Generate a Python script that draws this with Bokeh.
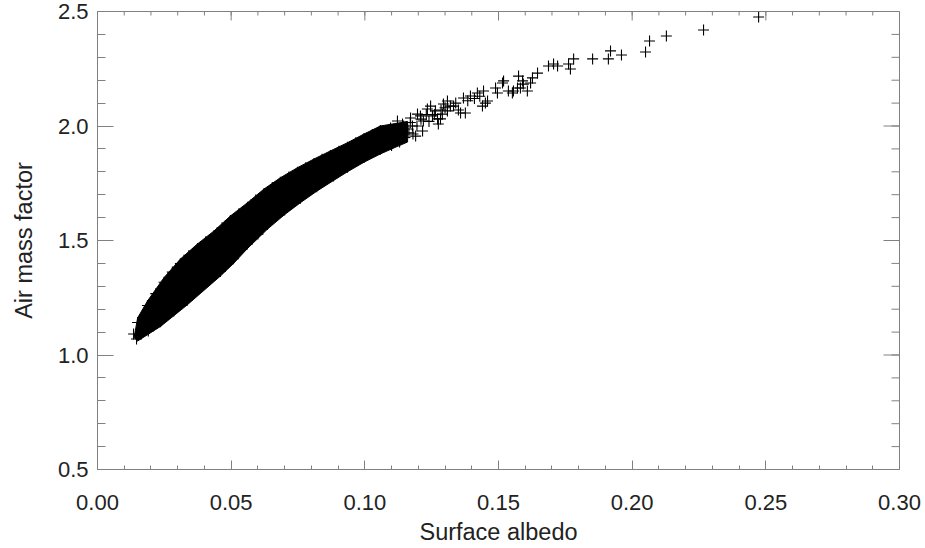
import math
from bokeh.plotting import figure
from bokeh.models import Range1d, FixedTicker, NumeralTickFormatter
from bokeh.embed import file_html
from bokeh.resources import INLINE

# ---- data ----
# dense band outline (upper edge, left to right)
band_upper_x = [0.0137, 0.0150, 0.0187, 0.0249, 0.0310, 0.0374, 0.0436, 0.0497, 0.0561, 0.0623,
                0.0684, 0.0748, 0.0810, 0.0871, 0.0935, 0.0997, 0.1058, 0.1120, 0.1160]
band_upper_y = [1.076, 1.162, 1.236, 1.338, 1.419, 1.485, 1.542, 1.607, 1.665, 1.725,
                1.774, 1.818, 1.856, 1.891, 1.927, 1.965, 2.000, 2.012, 2.020]
# dense band outline (lower edge, left to right)
band_lower_x = [0.0150, 0.0236, 0.0335, 0.0460, 0.0509, 0.0561, 0.0636, 0.0700, 0.0759,
                0.0820, 0.0883, 0.0935, 0.0997, 0.1058, 0.1120, 0.1160]
band_lower_y = [1.061, 1.125, 1.218, 1.345, 1.400, 1.465, 1.550, 1.613, 1.665,
                1.715, 1.762, 1.800, 1.842, 1.878, 1.910, 1.930]

# individual points along the edges of the dense band
edge_upper_x = [0.0150, 0.0187, 0.0218, 0.0249, 0.0280, 0.0310, 0.0342, 0.0374, 0.0405, 0.0436,
                0.0466, 0.0497, 0.0529, 0.0561, 0.0592, 0.0623, 0.0654, 0.0684, 0.0716, 0.0748,
                0.0779, 0.0810, 0.0840, 0.0871, 0.0903, 0.0935, 0.0966, 0.0997, 0.1028, 0.1058]
edge_upper_y = [1.142, 1.216, 1.268, 1.318, 1.362, 1.399, 1.435, 1.465, 1.495, 1.522,
                1.556, 1.587, 1.617, 1.645, 1.677, 1.705, 1.731, 1.754, 1.777, 1.798,
                1.818, 1.836, 1.855, 1.871, 1.890, 1.907, 1.927, 1.945, 1.963, 1.980]
edge_lower_x = [0.0146, 0.0135, 0.0190, 0.0236, 0.0285, 0.0335, 0.0400, 0.0460, 0.0509, 0.0561,
                0.0600, 0.0636, 0.0700, 0.0759, 0.0820, 0.0883, 0.0935, 0.0997, 0.1058]
edge_lower_y = [1.070, 1.092, 1.105, 1.145, 1.192, 1.238, 1.310, 1.365, 1.420, 1.485,
                1.528, 1.570, 1.633, 1.685, 1.735, 1.782, 1.820, 1.862, 1.898]

# scattered points at higher albedo
sparse_x = [0.1059, 0.1077, 0.1085, 0.1096, 0.1103, 0.1122, 0.1133, 0.1141, 0.1160, 0.1171,
            0.1178, 0.1190, 0.1197, 0.1208, 0.1216, 0.1219, 0.1234, 0.1246, 0.1253, 0.1264,
            0.1272, 0.1275, 0.1283, 0.1290, 0.1294, 0.1309, 0.1309, 0.1320, 0.1332, 0.1358,
            0.1369, 0.1376, 0.1395, 0.1421, 0.1440, 0.1444, 0.1451, 0.1459, 0.1489, 0.1496,
            0.1515, 0.1519, 0.1537, 0.1552, 0.1556, 0.1571, 0.1575, 0.1582, 0.1590, 0.1593,
            0.1608, 0.1620, 0.1627, 0.1646, 0.1687, 0.1706, 0.1721, 0.1762, 0.1769, 0.1781,
            0.1852, 0.1911, 0.1919, 0.1960, 0.2050, 0.2065, 0.2128, 0.2267, 0.2473,
            0.1100, 0.1115, 0.1130, 0.1150, 0.1165, 0.1180, 0.1145, 0.1170, 0.1195, 0.1210,
            0.1230, 0.1240, 0.1260, 0.1285, 0.1300, 0.1340, 0.1350, 0.1385, 0.1410, 0.1430]
sparse_y = [1.921, 1.978, 1.948, 1.991, 1.935, 2.022, 1.965, 2.009, 1.987, 2.035,
            2.000, 1.956, 2.052, 2.044, 1.978, 2.022, 2.074, 2.087, 2.044, 2.066,
            2.031, 2.009, 2.031, 2.052, 2.096, 2.066, 2.109, 2.087, 2.087, 2.057,
            2.122, 2.057, 2.131, 2.144, 2.087, 2.153, 2.100, 2.109, 2.166, 2.144,
            2.188, 2.197, 2.153, 2.144, 2.153, 2.166, 2.218, 2.166, 2.197, 2.183,
            2.153, 2.188, 2.210, 2.231, 2.262, 2.271, 2.262, 2.271, 2.249, 2.293,
            2.293, 2.293, 2.328, 2.310, 2.323, 2.371, 2.393, 2.419, 2.476,
            1.915, 1.960, 1.930, 1.950, 1.970, 1.965, 2.000, 2.015, 2.000, 2.030,
            2.050, 2.020, 2.050, 2.070, 2.080, 2.100, 2.070, 2.110, 2.120, 2.130]

xtick_values = [0.00, 0.05, 0.10, 0.15, 0.20, 0.25, 0.30]
ytick_values = [0.5, 1.0, 1.5, 2.0, 2.5]
xminor_values = [i / 100 for i in range(0, 31)]
yminor_values = [i / 10 for i in range(5, 26)]

# ---- styling ----
FONT = "Liberation Sans"
TXT = "#222222"
AX = "#808080"

p = figure(width=925, height=548, x_range=Range1d(0, 0.30), y_range=Range1d(0.5, 2.5),
           output_backend="svg", toolbar_location=None,
           min_border_left=97, min_border_right=26, min_border_top=11, min_border_bottom=79)
p.grid.visible = False
p.outline_line_color = AX
p.background_fill_color = "white"
p.border_fill_color = "white"

# data marks
p.patch(band_upper_x + band_lower_x[::-1], band_upper_y + band_lower_y[::-1],
        fill_color="black", line_color="black", line_width=1)
for xs, ys in ((edge_upper_x, edge_upper_y), (edge_lower_x, edge_lower_y), (sparse_x, sparse_y)):
    p.scatter(xs, ys, marker="cross", size=11, line_color="black", line_width=1.1)

# axes
def style(ax, major_len, minor_len):
    ax.axis_line_color = AX
    ax.major_tick_line_color = AX
    ax.minor_tick_line_color = AX
    ax.major_tick_out = 0
    ax.minor_tick_out = 0
    ax.major_tick_in = major_len
    ax.minor_tick_in = minor_len
    ax.major_label_text_font = FONT
    ax.major_label_text_font_size = "22px"
    ax.major_label_text_color = TXT
    ax.axis_label_text_font = FONT
    ax.axis_label_text_font_size = "23.5px"
    ax.axis_label_text_font_style = "normal"
    ax.axis_label_text_color = TXT

xa = p.xaxis[0]
xa.ticker = FixedTicker(ticks=xtick_values, minor_ticks=xminor_values)
xa.formatter = NumeralTickFormatter(format="0.00")
style(xa, 9, 4)
xa.major_label_standoff = 25
xa.axis_label = "Surface albedo"
xa.axis_label_standoff = 6

ya = p.yaxis[0]
ya.ticker = FixedTicker(ticks=ytick_values, minor_ticks=yminor_values)
ya.formatter = NumeralTickFormatter(format="0.0")
style(ya, 16, 8)
ya.major_label_standoff = 9
ya.axis_label = "Air mass factor"
ya.axis_label_standoff = 18

# tick marks on the top and right edges of the box
p.ray(x=xtick_values, y=2.5, length=9, length_units="screen", angle=-math.pi / 2,
      line_color=AX, line_width=1)
p.ray(x=xminor_values, y=2.5, length=4, length_units="screen", angle=-math.pi / 2,
      line_color=AX, line_width=1)
p.ray(x=0.30, y=ytick_values, length=16, length_units="screen", angle=math.pi,
      line_color=AX, line_width=1)
p.ray(x=0.30, y=yminor_values, length=8, length_units="screen", angle=math.pi,
      line_color=AX, line_width=1)

open("out.html", "w").write(file_html(p, INLINE))
